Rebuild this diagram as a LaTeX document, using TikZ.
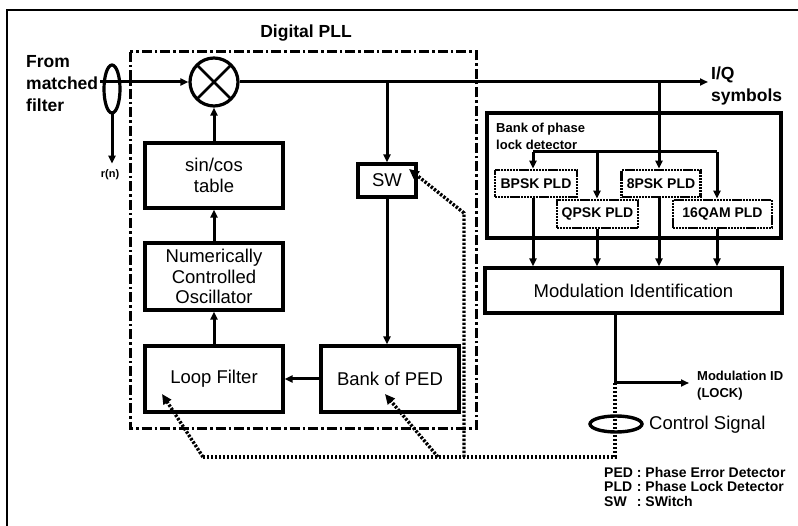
\documentclass[tikz,border=0pt]{standalone}
\usepackage{fontspec}
\setmainfont{Liberation Sans}
\usetikzlibrary{arrows.meta,calc}
\newcommand\fbig{\fontsize{18.5}{20.5}\selectfont}
\newcommand\fhead{\bfseries\fontsize{17.5}{22}\selectfont}
\newcommand\fpld{\bfseries\fontsize{14}{16}\selectfont}
\newcommand\fsmall{\bfseries\fontsize{13}{17}\selectfont}
\newcommand\ftiny{\bfseries\fontsize{11}{13}\selectfont}
\begin{document}
\begin{tikzpicture}[x=1pt,y=-1pt,
  ln/.style={line width=3pt},
  arr/.style={line width=3pt,-{Triangle[length=8pt,width=7pt]}},
  ctl/.style={line width=3.4pt,dash pattern=on 2.4pt off 1.6pt},
  ctlarr/.style={ctl,-{Triangle[length=10pt,width=9pt]}},
  box/.style={draw,line width=3.2pt,minimum width=138pt,inner sep=0pt,align=center,font=\fbig},
  pld/.style={draw,line width=2.6pt,dash pattern=on 2.2pt off 0.7pt,inner sep=0pt,minimum height=27pt,font=\fpld},
  lab/.style={inner sep=0pt,align=left}]
\useasboundingbox (0,0) rectangle (798,526);
% outer frame (left and top)
\draw[line width=2.4pt] (7,526) -- (7,10) -- (798,10);
% Digital PLL frame
\node[lab,font=\fhead] (dpll) at (306,33) {Digital PLL};
\draw[line width=3pt,dash pattern=on 10pt off 3pt on 2.5pt off 3pt] (130,52) rectangle (476,429);
% input
\node[lab,anchor=west,font=\fhead] (from) at (26,84) {From\\matched\\filter};
\node[draw,circle,line width=3.2pt,minimum size=48pt,inner sep=0pt] (mix) at (214,82) {};
\draw[line width=2.8pt] ($(mix.center)+(-17,-17)$) -- ($(mix.center)+(17,17)$);
\draw[line width=2.8pt] ($(mix.center)+(-17,17)$) -- ($(mix.center)+(17,-17)$);
\coordinate (in) at (100,82);
\draw[arr] (in) -- (mix.west);
\draw[line width=3.2pt] (112,89) ellipse (8 and 24);
\coordinate (etop) at (112,113);
\node[lab,font=\ftiny] (rn) at (110,175) {r(n)};
\draw[arr,shorten >=6pt] (etop) -- (etop |- rn.north);
% main output
\coordinate (iq) at (708,82);
\draw[arr] (mix.east) -- (iq);
\node[lab,anchor=west,font=\fhead] (iqt) at (711,86) {I/Q\\symbols};
% PLL blocks
\node[box,minimum height=65pt] (sc) at (214,175.5) {sin/cos\\table};
\node[box,minimum height=67pt] (nco) at (214,276.5) {Numerically\\Controlled\\Oscillator};
\node[box,minimum height=66pt] (lf) at (214,379) {Loop Filter};
\node[box,minimum height=66pt] (ped) at (390,379) {Bank of PED};
\node[draw,line width=3.2pt,minimum width=58pt,minimum height=33pt,inner sep=0pt,font=\fbig] (sw) at (387,180.5) {SW};
\draw[arr] (sc.north) -- (mix.south);
\draw[arr] (nco.north) -- (sc.south);
\draw[arr] (lf.north) -- (nco.south);
\coordinate (b1) at (387,82);
\draw[arr] (b1) -- (sw.north);
\draw[arr] (sw.south) -- (sw.south |- ped.north);
\draw[arr] (ped.west) -- (lf.east);
% Bank of phase lock detector
\node[draw,line width=3.4pt,minimum width=294pt,minimum height=125pt,inner sep=0pt] (bank) at (634,175.5) {};
\node[lab,anchor=west,font=\fsmall] (bankt) at (496,136) {Bank of phase\\lock detector};
\node[pld,minimum width=82pt] (bp) at (536,183.5) {BPSK PLD};
\node[pld,minimum width=79pt] (ep) at (661,183.5) {8PSK PLD};
\node[pld,minimum width=81pt,minimum height=28pt] (qp) at (597.5,214) {QPSK PLD};
\node[pld,minimum width=99pt,minimum height=28pt] (qam) at (722.5,214) {16QAM PLD};
\coordinate (b2) at (659,82);
\coordinate (barL) at (533,152);
\coordinate (barQ) at (597,152);
\coordinate (barR) at (717,152);
\draw[ln] (barL) -- (barR);
\draw[arr] (b2) -- (b2 |- ep.north);
\draw[arr] (barL) -- (barL |- bp.north);
\draw[arr] (barQ) -- (barQ |- qp.north);
\draw[arr] (barR) -- (barR |- qam.north);
% Modulation identification
\node[draw,line width=3.2pt,minimum width=297pt,minimum height=45pt,inner sep=0pt,font=\fbig] (mid) at (633.5,290.5) {Modulation Identification};
\draw[arr] (barL |- bp.south) -- (barL |- mid.north);
\draw[arr] (barQ |- qp.south) -- (barQ |- mid.north);
\draw[arr] (b2 |- ep.south) -- (b2 |- mid.north);
\draw[arr] (barR |- qam.south) -- (barR |- mid.north);
\coordinate (mo) at (615,313);
\coordinate (mc) at (615,383);
\coordinate (mend) at (689,383);
\draw[ln] (mo) -- (mc);
\draw[arr] (mc) -- (mend);
\node[lab,anchor=west,font=\fsmall] (modidt) at (697,386) {Modulation ID\\(LOCK)};
% control signal
\coordinate (c1) at (615,457);
\coordinate (c2) at (203,457);
\coordinate (c3) at (438,457);
\coordinate (c4) at (464,457);
\coordinate (c5) at (464,213);
\coordinate (lft) at (162,394);
\coordinate (pedt) at (385,394);
\coordinate (swt) at (409,169);
\draw[ctl] (mc) -- (c1) -- (c2);
\draw[ctlarr] (c2) -- (lft);
\draw[ctlarr] (c3) -- (pedt);
\draw[ctlarr] (c4) -- (c5) -- (swt);
\draw[line width=3.4pt] (616,424) ellipse (26 and 8);
\node[lab,anchor=west,font=\fbig] (cst) at (649,425) {Control Signal};
% legend
\node[lab,anchor=north west,font=\fpld] (leg) at (604,466) {%
\begin{tabular}{@{}l@{ : }l@{}}
PED & Phase Error Detector\\[-1.5pt]
PLD & Phase Lock Detector\\[-1.5pt]
SW & SWitch
\end{tabular}};
\end{tikzpicture}
\end{document}
